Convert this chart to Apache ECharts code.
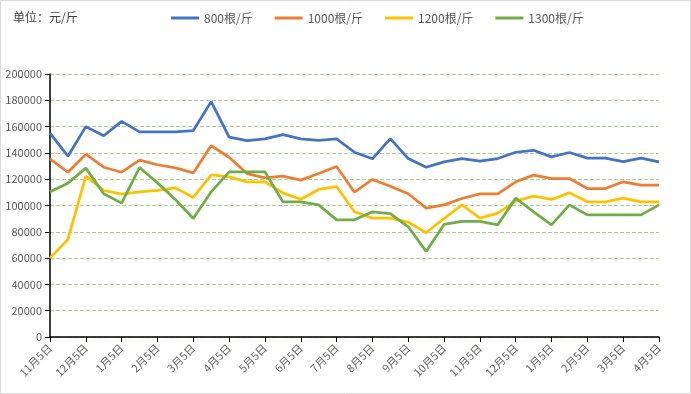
<!DOCTYPE html>
<html><head><meta charset="utf-8">
<script src="https://cdn.jsdelivr.net/npm/echarts@6/dist/echarts.min.js"></script>
<style>html,body{margin:0;padding:0;background:#fff}#c{width:691px;height:394px}</style>
</head><body><div id="c"></div>
<script>
var monthLabels = ['11月5日','12月5日','1月5日','2月5日','3月5日','4月5日','5月5日','6月5日','7月5日','8月5日','9月5日','10月5日','11月5日','12月5日','1月5日','2月5日','3月5日','4月5日'];
var seriesNames = ['800根/斤','1000根/斤','1200根/斤','1300根/斤'];
var s800  = [155000,137500,160000,153000,164000,156000,156000,156000,157000,179000,152000,149400,150700,153900,150700,149600,150700,140500,135500,150900,135700,129100,133200,135700,133700,135700,140500,142000,137000,140300,136000,136000,133400,136000,133200];
var s1000 = [135500,125300,139000,129100,125300,134500,131000,128600,124800,145600,136700,124300,121000,122300,119300,124300,129600,110100,119800,114700,108900,98000,100500,105300,108900,108900,118000,123100,120500,120500,112900,112900,118000,115500,115500];
var s1200 = [60000,74200,122300,111400,108600,110400,111500,113400,106100,123300,121800,118000,118000,109600,104800,112200,114400,95200,90400,90400,87400,79300,90100,100500,90400,94200,103300,107100,104600,109600,102800,102800,105600,102800,102800];
var s1300 = [110400,117000,128400,108900,101800,128900,117200,104600,90100,110400,125600,125600,125600,102800,102800,100500,89100,89100,95200,93900,83800,65100,85600,87900,87900,85300,105600,95200,85300,100500,92900,92900,92900,92900,100500];
var colors = ['#4472C4','#ED7D31','#FFC000','#70AD47'];

var categories = [];
for (var i = 0; i < monthLabels.length; i++) {
  categories.push(monthLabels[i]);
  if (i < monthLabels.length - 1) categories.push('');
}
var values = [s800, s1000, s1200, s1300];
var font = '"Noto Sans CJK SC", "Liberation Sans", sans-serif';

var chart = echarts.init(document.getElementById('c'));
chart.setOption({
  animation: false,
  color: colors,
  textStyle: { fontFamily: font },
  graphic: [{
    type: 'rect', silent: true,
    shape: { x: 0.5, y: 0.5, width: 690, height: 393 },
    style: { fill: 'none', stroke: '#d9d9d9', lineWidth: 1 }
  }],
  title: {
    text: '单位：元/斤', left: 8, top: 6,
    textStyle: { fontSize: 12, fontWeight: 'normal', color: '#404040', fontFamily: font }
  },
  legend: {
    top: 7, left: 166,
    icon: 'rect', itemWidth: 28, itemHeight: 3, itemGap: 22,
    textStyle: { fontSize: 12, color: '#595959', fontFamily: font },
    data: seriesNames
  },
  grid: { left: 50, right: 32, top: 74, bottom: 57, containLabel: false },
  xAxis: {
    type: 'category', boundaryGap: false, data: categories,
    axisLine: { lineStyle: { color: '#000', width: 1.5 } },
    axisTick: { show: true, interval: 1, length: 5, lineStyle: { color: '#000' } },
    axisLabel: { interval: 1, rotate: 45, fontSize: 11, color: '#666', margin: 9, fontFamily: font },
    splitLine: { show: false }
  },
  yAxis: {
    type: 'value', min: 0, max: 200000, interval: 20000,
    axisLine: { show: true, lineStyle: { color: '#000', width: 1.5 } },
    axisTick: { show: true, length: 5, lineStyle: { color: '#000' } },
    axisLabel: { fontSize: 11, color: '#595959', margin: 8, fontFamily: font,
      formatter: function (v) { return String(v); } },
    splitLine: { show: true, lineStyle: { color: '#a9d18e', type: 'dashed', width: 1 } }
  },
  series: seriesNames.map(function (n, k) {
    return {
      name: n, type: 'line', data: values[k], symbol: 'none', smooth: false,
      lineStyle: { width: 2.75, color: colors[k] }, itemStyle: { color: colors[k] }
    };
  })
});
</script></body></html>
